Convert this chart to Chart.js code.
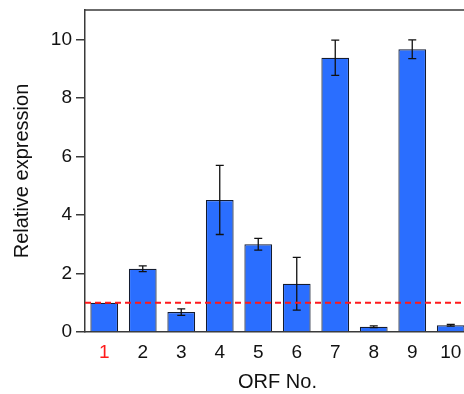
<!DOCTYPE html>
<html>
<head>
<meta charset="utf-8">
<script src="https://cdn.jsdelivr.net/npm/chart.js@4"></script>
<style>
  html, body { margin: 0; padding: 0; background: #fff; overflow: hidden; }
  #wrap { width: 472px; height: 394px; }
</style>
</head>
<body>
<div id="wrap"><canvas id="chart" width="472" height="394"></canvas></div>
<script>
// values
const orfLabels = ['1', '2', '3', '4', '5', '6', '7', '8', '9', '10'];
const expression = [1.0, 2.16, 0.68, 4.51, 3.0, 1.65, 9.37, 0.18, 9.66, 0.23];
const errors = [0, 0.1, 0.11, 1.18, 0.2, 0.9, 0.6, 0.03, 0.32, 0.03];
const yTicks = [0, 2, 4, 6, 8, 10];
const baseline = 1;

const FONT = '"Liberation Sans", Arial, sans-serif';
const AXIS = '#3a3a3a';

// error bars + red reference line + top frame
const extras = {
    id: 'extras',
    afterDatasetsDraw(chart) {
        const ctx = chart.ctx;
        const x = chart.scales.x, y = chart.scales.y;
        const area = chart.chartArea;

        ctx.save();
        ctx.strokeStyle = '#111';
        ctx.lineWidth = 1.3;
        expression.forEach((v, i) => {
            const e = errors[i];
            if (!e) return;
            const cx = x.getPixelForValue(i);
            const top = y.getPixelForValue(v + e);
            const bot = y.getPixelForValue(v - e);
            ctx.beginPath();
            ctx.moveTo(cx, top); ctx.lineTo(cx, bot);
            ctx.moveTo(cx - 4, top); ctx.lineTo(cx + 4, top);
            ctx.moveTo(cx - 4, bot); ctx.lineTo(cx + 4, bot);
            ctx.stroke();
        });

        const ly = y.getPixelForValue(baseline);
        ctx.strokeStyle = '#ff1a1a';
        ctx.lineWidth = 2;
        ctx.setLineDash([6, 4]);
        ctx.beginPath();
        ctx.moveTo(area.left, ly);
        ctx.lineTo(area.right, ly);
        ctx.stroke();
        ctx.setLineDash([]);

        ctx.strokeStyle = AXIS;
        ctx.lineWidth = 1.5;
        ctx.beginPath();
        ctx.moveTo(area.left, area.top);
        ctx.lineTo(area.right, area.top);
        ctx.stroke();
        ctx.restore();
    }
};

new Chart(document.getElementById('chart'), {
    type: 'bar',
    data: {
        labels: orfLabels,
        datasets: [{
            data: expression,
            backgroundColor: '#2a6eff',
            borderColor: '#141c30',
            borderWidth: 1.2,
            barPercentage: 0.72,
            categoryPercentage: 1
        }]
    },
    options: {
        responsive: false,
        animation: false,
        layout: { padding: { top: 10, right: 2, left: 0, bottom: 0 } },
        plugins: { legend: { display: false }, tooltip: { enabled: false } },
        scales: {
            x: {
                grid: { display: false },
                border: { color: AXIS, width: 1.5 },
                ticks: {
                    padding: 1,
                    font: { family: FONT, size: 19 },
                    color: c => c.index === 0 ? '#ff1a1a' : '#111'
                },
                title: {
                    display: true,
                    text: 'ORF No.',
                    font: { family: FONT, size: 20 },
                    color: '#111',
                    padding: { bottom: 0 }
                },
                afterFit: s => { s.height = 62; s.paddingLeft = 0; s.paddingRight = 0; }
            },
            y: {
                min: 0,
                max: 11,
                afterBuildTicks: s => { s.ticks = yTicks.map(v => ({ value: v })); },
                grid: { drawOnChartArea: false, drawTicks: true, tickLength: 9, color: AXIS, lineWidth: 1.5 },
                border: { color: AXIS, width: 1.5 },
                ticks: {
                    padding: 4,
                    font: { family: FONT, size: 19 },
                    color: '#111'
                },
                title: {
                    display: true,
                    text: 'Relative expression',
                    font: { family: FONT, size: 20 },
                    color: '#111',
                    padding: { top: 10 }
                },
                afterFit: s => { s.width = 85; s.paddingTop = 0; s.paddingBottom = 0; }
            }
        }
    },
    plugins: [extras]
});
</script>
</body>
</html>
